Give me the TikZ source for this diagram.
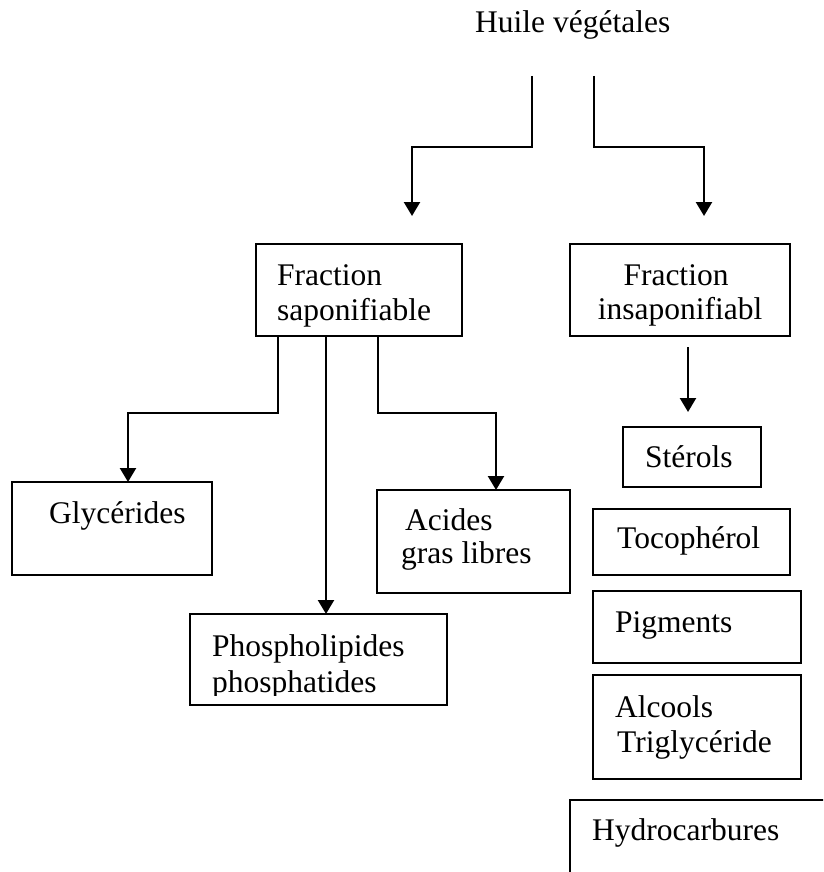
\documentclass[tikz,border=0pt]{standalone}
\usepackage{fontspec}
\setmainfont{Liberation Serif}
\usetikzlibrary{arrows.meta}
\begin{document}
\begin{tikzpicture}[x=1pt,y=-1pt,
  box/.style={draw,line width=2pt,inner sep=0pt,outer sep=0pt,anchor=north west},
  txt/.style={inner sep=0pt,anchor=base west,font=\fontsize{31.5pt}{37pt}\selectfont},
  ctxt/.style={inner sep=0pt,anchor=base,font=\fontsize{31.5pt}{37pt}\selectfont},
  arr/.style={line width=2.3pt,-{Triangle[width=16pt,length=14pt]}}]
\clip (0,0) rectangle (823,872);
\fill[white] (0,0) rectangle (823,872);
% boxes
\node[box,minimum width=206pt,minimum height=92pt] (sap) at (256,244) {};
\node[box,minimum width=220pt,minimum height=92pt] (insap) at (570,244) {};
\node[box,minimum width=200pt,minimum height=93pt] (glyc) at (12,482) {};
\node[box,minimum width=193pt,minimum height=103pt] (acides) at (377,490) {};
\node[box,minimum width=257pt,minimum height=91pt] (phos) at (190,614) {};
\node[box,minimum width=138pt,minimum height=60pt] (sterols) at (623,427) {};
\node[box,minimum width=197pt,minimum height=66pt] (toco) at (593,509) {};
\node[box,minimum width=208pt,minimum height=72pt] (pigm) at (593,591) {};
\node[box,minimum width=208pt,minimum height=104pt] (alc) at (593,675) {};
\node[box,minimum width=270pt,minimum height=100pt] (hydro) at (570,800) {};
% texts
\node[txt] (huile) at (475,33) {Huile végétales};
\node[txt] (sap1) at (277,285) {Fraction};
\node[txt] (sap2) at (277,320) {saponifiable};
\node[ctxt] (ins1) at (676,285) {Fraction};
\node[ctxt] (ins2) at (680,319) {insaponifiabl};
\node[txt] (glyT) at (49,523) {Glycérides};
\node[txt] (aci1) at (405,530) {Acides};
\node[txt] (aci2) at (401,563) {gras libres};
\begin{scope}
\clip (190,614) rectangle (447,695);
\node[txt] (pho1) at (212,656) {Phospholipides};
\node[txt] (pho2) at (212,692) {phosphatides};
\end{scope}
\node[txt] (stT) at (645,467) {Stérols};
\node[txt] (toT) at (617,548) {Tocophérol};
\node[txt] (piT) at (615,632) {Pigments};
\node[txt] (al1) at (615,717) {Alcools};
\node[txt] (al2) at (617,752) {Triglycéride};
\node[txt] (hyT) at (592,840) {Hydrocarbures};
% connectors
\coordinate (hl) at (532,76);
\coordinate (hr) at (594,76);
\draw[arr] (hl) -- ++(0,71) -| ([xshift=156pt,yshift=28pt]sap.north west);
\draw[arr] (hr) -- ++(0,71) -| ([xshift=134pt,yshift=28pt]insap.north west);
\draw[arr] ([xshift=22pt]sap.south west) -- ++(0,77) -| ([xshift=116pt]glyc.north west);
\draw[arr] ([xshift=70pt]sap.south west) -- ([xshift=136pt]phos.north west);
\draw[arr] ([xshift=122pt]sap.south west) -- ++(0,77) -| ([xshift=119pt]acides.north west);
\draw[arr] ([xshift=118pt,yshift=-11pt]insap.south west) -- ([xshift=65pt,yshift=15pt]sterols.north west);
\end{tikzpicture}
\end{document}
